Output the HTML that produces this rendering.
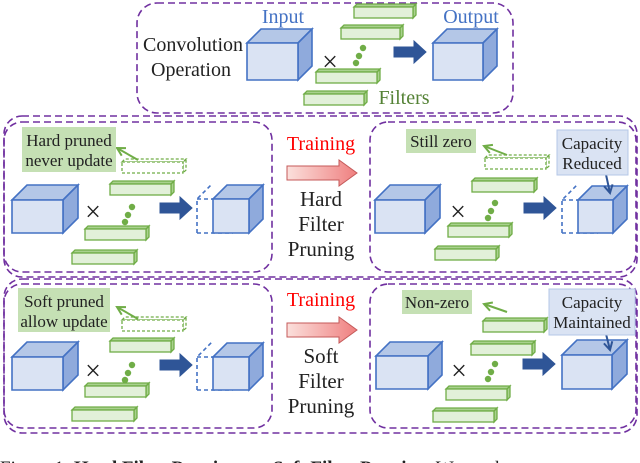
<!DOCTYPE html>
<html><head><meta charset="utf-8"><style>
html,body{margin:0;padding:0;background:#fff;width:640px;height:463px;overflow:hidden}
svg{display:block}
text{font-family:"Liberation Serif",serif}
</style></head><body>
<svg id="s" width="640" height="463" viewBox="0 0 640 463" xmlns="http://www.w3.org/2000/svg">
<defs>
<linearGradient id="tg" x1="0" x2="1" y1="0" y2="0"><stop offset="0" stop-color="#fbe0dc"/><stop offset="1" stop-color="#ef7f7f"/></linearGradient>
</defs>
<g fill="none" stroke="#7030a0" stroke-width="1.6" stroke-dasharray="7,4">
<rect x="137" y="3" width="376" height="110" rx="20"/>
<rect x="4" y="116" width="633" height="161" rx="18"/>
<rect x="4" y="122" width="268" height="150" rx="18"/>
<rect x="370" y="122" width="266" height="150" rx="18"/>
<rect x="4" y="279" width="633" height="154" rx="18"/>
<rect x="4" y="284" width="268" height="144" rx="18"/>
<rect x="370" y="284" width="266" height="144" rx="18"/>
</g>
<g id="shapes"></g>
<rect x="22" y="127" width="94" height="45" fill="#c5e0b4"/>
<rect x="406" y="129" width="70" height="24" fill="#c5e0b4"/>
<rect x="557" y="130" width="71" height="45" fill="#dae3f3" stroke="#b4c7e7"/>
<rect x="18" y="288" width="92" height="44" fill="#c5e0b4"/>
<rect x="402" y="290" width="70" height="24" fill="#c5e0b4"/>
<rect x="549" y="289" width="86" height="46" fill="#dae3f3" stroke="#b4c7e7"/>
<g font-size="20" fill="#222">
<text x="193" y="51" text-anchor="middle">Convolution</text>
<text x="191" y="76" text-anchor="middle">Operation</text>
<text x="321" y="206" text-anchor="middle" font-size="21">Hard</text>
<text x="321" y="231" text-anchor="middle" font-size="21">Filter</text>
<text x="321" y="256" text-anchor="middle" font-size="21">Pruning</text>
<text x="321" y="363" text-anchor="middle" font-size="21">Soft</text>
<text x="321" y="388" text-anchor="middle" font-size="21">Filter</text>
<text x="321" y="413" text-anchor="middle" font-size="21">Pruning</text>
<text x="93" y="221" text-anchor="middle" font-size="28">×</text>
<text x="330" y="71" text-anchor="middle" font-size="28">×</text>
<text x="458" y="221" text-anchor="middle" font-size="28">×</text>
<text x="93" y="380" text-anchor="middle" font-size="28">×</text>
<text x="459" y="380" text-anchor="middle" font-size="28">×</text>
</g>
<g font-size="20" text-anchor="middle">
<text x="283" y="23" fill="#4472c4">Input</text>
<text x="471" y="23" fill="#4472c4">Output</text>
<text x="404" y="104" fill="#548235">Filters</text>
<text x="321" y="150" fill="#ff0000">Training</text>
<text x="321" y="306" fill="#ff0000">Training</text>
</g>
<g font-size="17" fill="#222" text-anchor="middle">
<text x="69" y="146">Hard pruned</text>
<text x="69" y="166">never update</text>
<text x="441" y="147">Still zero</text>
<text x="592" y="149">Capacity</text>
<text x="592" y="169">Reduced</text>
<text x="64" y="307">Soft pruned</text>
<text x="64" y="327">allow update</text>
<text x="437" y="308">Non-zero</text>
<text x="592" y="308">Capacity</text>
<text x="592" y="328">Maintained</text>
</g>
<text x="0" y="474" font-size="19" fill="#222">Figure 1: <tspan font-weight="bold">Hard Filter Pruning</tspan> v.s. <tspan font-weight="bold">Soft Filter Pruning</tspan>. We mark</text>
</svg>
<script>
var g=document.getElementById('shapes'),NS='http://www.w3.org/2000/svg';
function el(t,a){var e=document.createElementNS(NS,t);for(var k in a)e.setAttribute(k,a[k]);g.appendChild(e);return e;}
function cube(x,y,w,h,d,dash){var s='#4472c4';
 function P(pts,f){el('polygon',{points:pts,fill:f,stroke:s,'stroke-width':1.6});}
 if(dash){var da={fill:'none',stroke:s,'stroke-width':1.6,'stroke-dasharray':'4,3'};
  el('polyline',Object.assign({points:[x,y+h,x,y,x+d,y-d].join(' ')},da));el('polyline',Object.assign({points:[x,y,x+w,y].join(' ')},da));el('polyline',Object.assign({points:[x,y+h,x+w,y+h].join(' ')},da));return;}
 P([x,y,x+d,y-d,x+w+d,y-d,x+w,y].join(' '),'#b4c7e7');
 P([x+w,y,x+w+d,y-d,x+w+d,y+h-d,x+w,y+h].join(' '),'#8faadc');
 P([x,y,x+w,y,x+w,y+h,x,y+h].join(' '),'#dae3f3');}
function bar(x,y,w,dash){var s='#70ad47',a={stroke:s,'stroke-width':1.3};if(dash)a['stroke-dasharray']='3,2';
 var f=dash?'#fff':'#e2f0d9',f2=dash?'#fff':'#a9d18e';
 el('polygon',Object.assign({points:[x+w,y,x+w+3,y-3,x+w+3,y+8,x+w,y+11].join(' '),fill:f2},a));
 el('polygon',Object.assign({points:[x,y,x+3,y-3,x+w+3,y-3,x+w,y].join(' '),fill:f2},a));
 el('rect',Object.assign({x:x,y:y,width:w,height:11,fill:f},a));}
function dots(x,y){[[0,0],[-4,8],[-7,15]].forEach(function(p){el('circle',{cx:x+p[0],cy:y+p[1],r:3.2,fill:'#70ad47'});});}
function arr(x,y){el('polygon',{points:[x,y-5,x+20,y-5,x+20,y-11,x+32,y,x+20,y+11,x+20,y+5,x,y+5].join(' '),fill:'#2f5597',stroke:'#2f5597'});}
function tarr(x,y){el('polygon',{points:[x,y-7,x+52,y-7,x+52,y-13,x+70,y,x+52,y+13,x+52,y+7,x,y+7].join(' '),fill:'url(#tg)',stroke:'#c55a5a','stroke-width':1});}
function arrowline(x1,y1,x2,y2,c){el('line',{x1:x1,y1:y1,x2:x2,y2:y2,stroke:c,'stroke-width':2});var a=Math.atan2(y2-y1,x2-x1),L=9;
 el('polyline',{points:[x2-L*Math.cos(a-0.5),y2-L*Math.sin(a-0.5),x2,y2,x2-L*Math.cos(a+0.5),y2-L*Math.sin(a+0.5)].join(' '),fill:'none',stroke:c,'stroke-width':2});}
cube(247,43,51,37,14);cube(433,43,50,37,14);
bar(354,7,59);bar(341,28,59);bar(316,72,61);bar(304,94,60);dots(363,48);arr(394,52);
cube(12,200,51,33,15);bar(110,184,61);bar(85,229,61);bar(72,253,62);bar(122,162,61,true);dots(132,207);arr(160,208);
cube(197,199,36,34,15,true);cube(213,199,36,34,14);
arrowline(138,160,117,148,'#70ad47');
tarr(287,173);
cube(375,200,50,33,15);bar(472,181,62);bar(448,226,61);bar(435,249,61);bar(485,158,61,true);dots(495,203);arr(524,208);
cube(562,200,36,33,15,true);cube(578,200,35,33,14);
arrowline(507,155,484,146,'#70ad47');arrowline(605,170,610,193,'#2f5597');
cube(12,357,51,33,15);bar(110,341,61);bar(85,386,61);bar(72,410,62);bar(122,320,61,true);dots(132,365);arr(160,365);
cube(197,357,36,33,15,true);cube(213,357,36,33,14);
arrowline(138,319,117,307,'#70ad47');
tarr(287,330);
cube(376,356,52,33,14);bar(483,321,61);bar(471,344,61);bar(446,389,61);bar(433,411,61);dots(495,364);arr(523,364);
cube(562,355,50,34,15);
arrowline(507,312,484,304,'#70ad47');arrowline(605,330,610,350,'#2f5597');
</script>
</body></html>
